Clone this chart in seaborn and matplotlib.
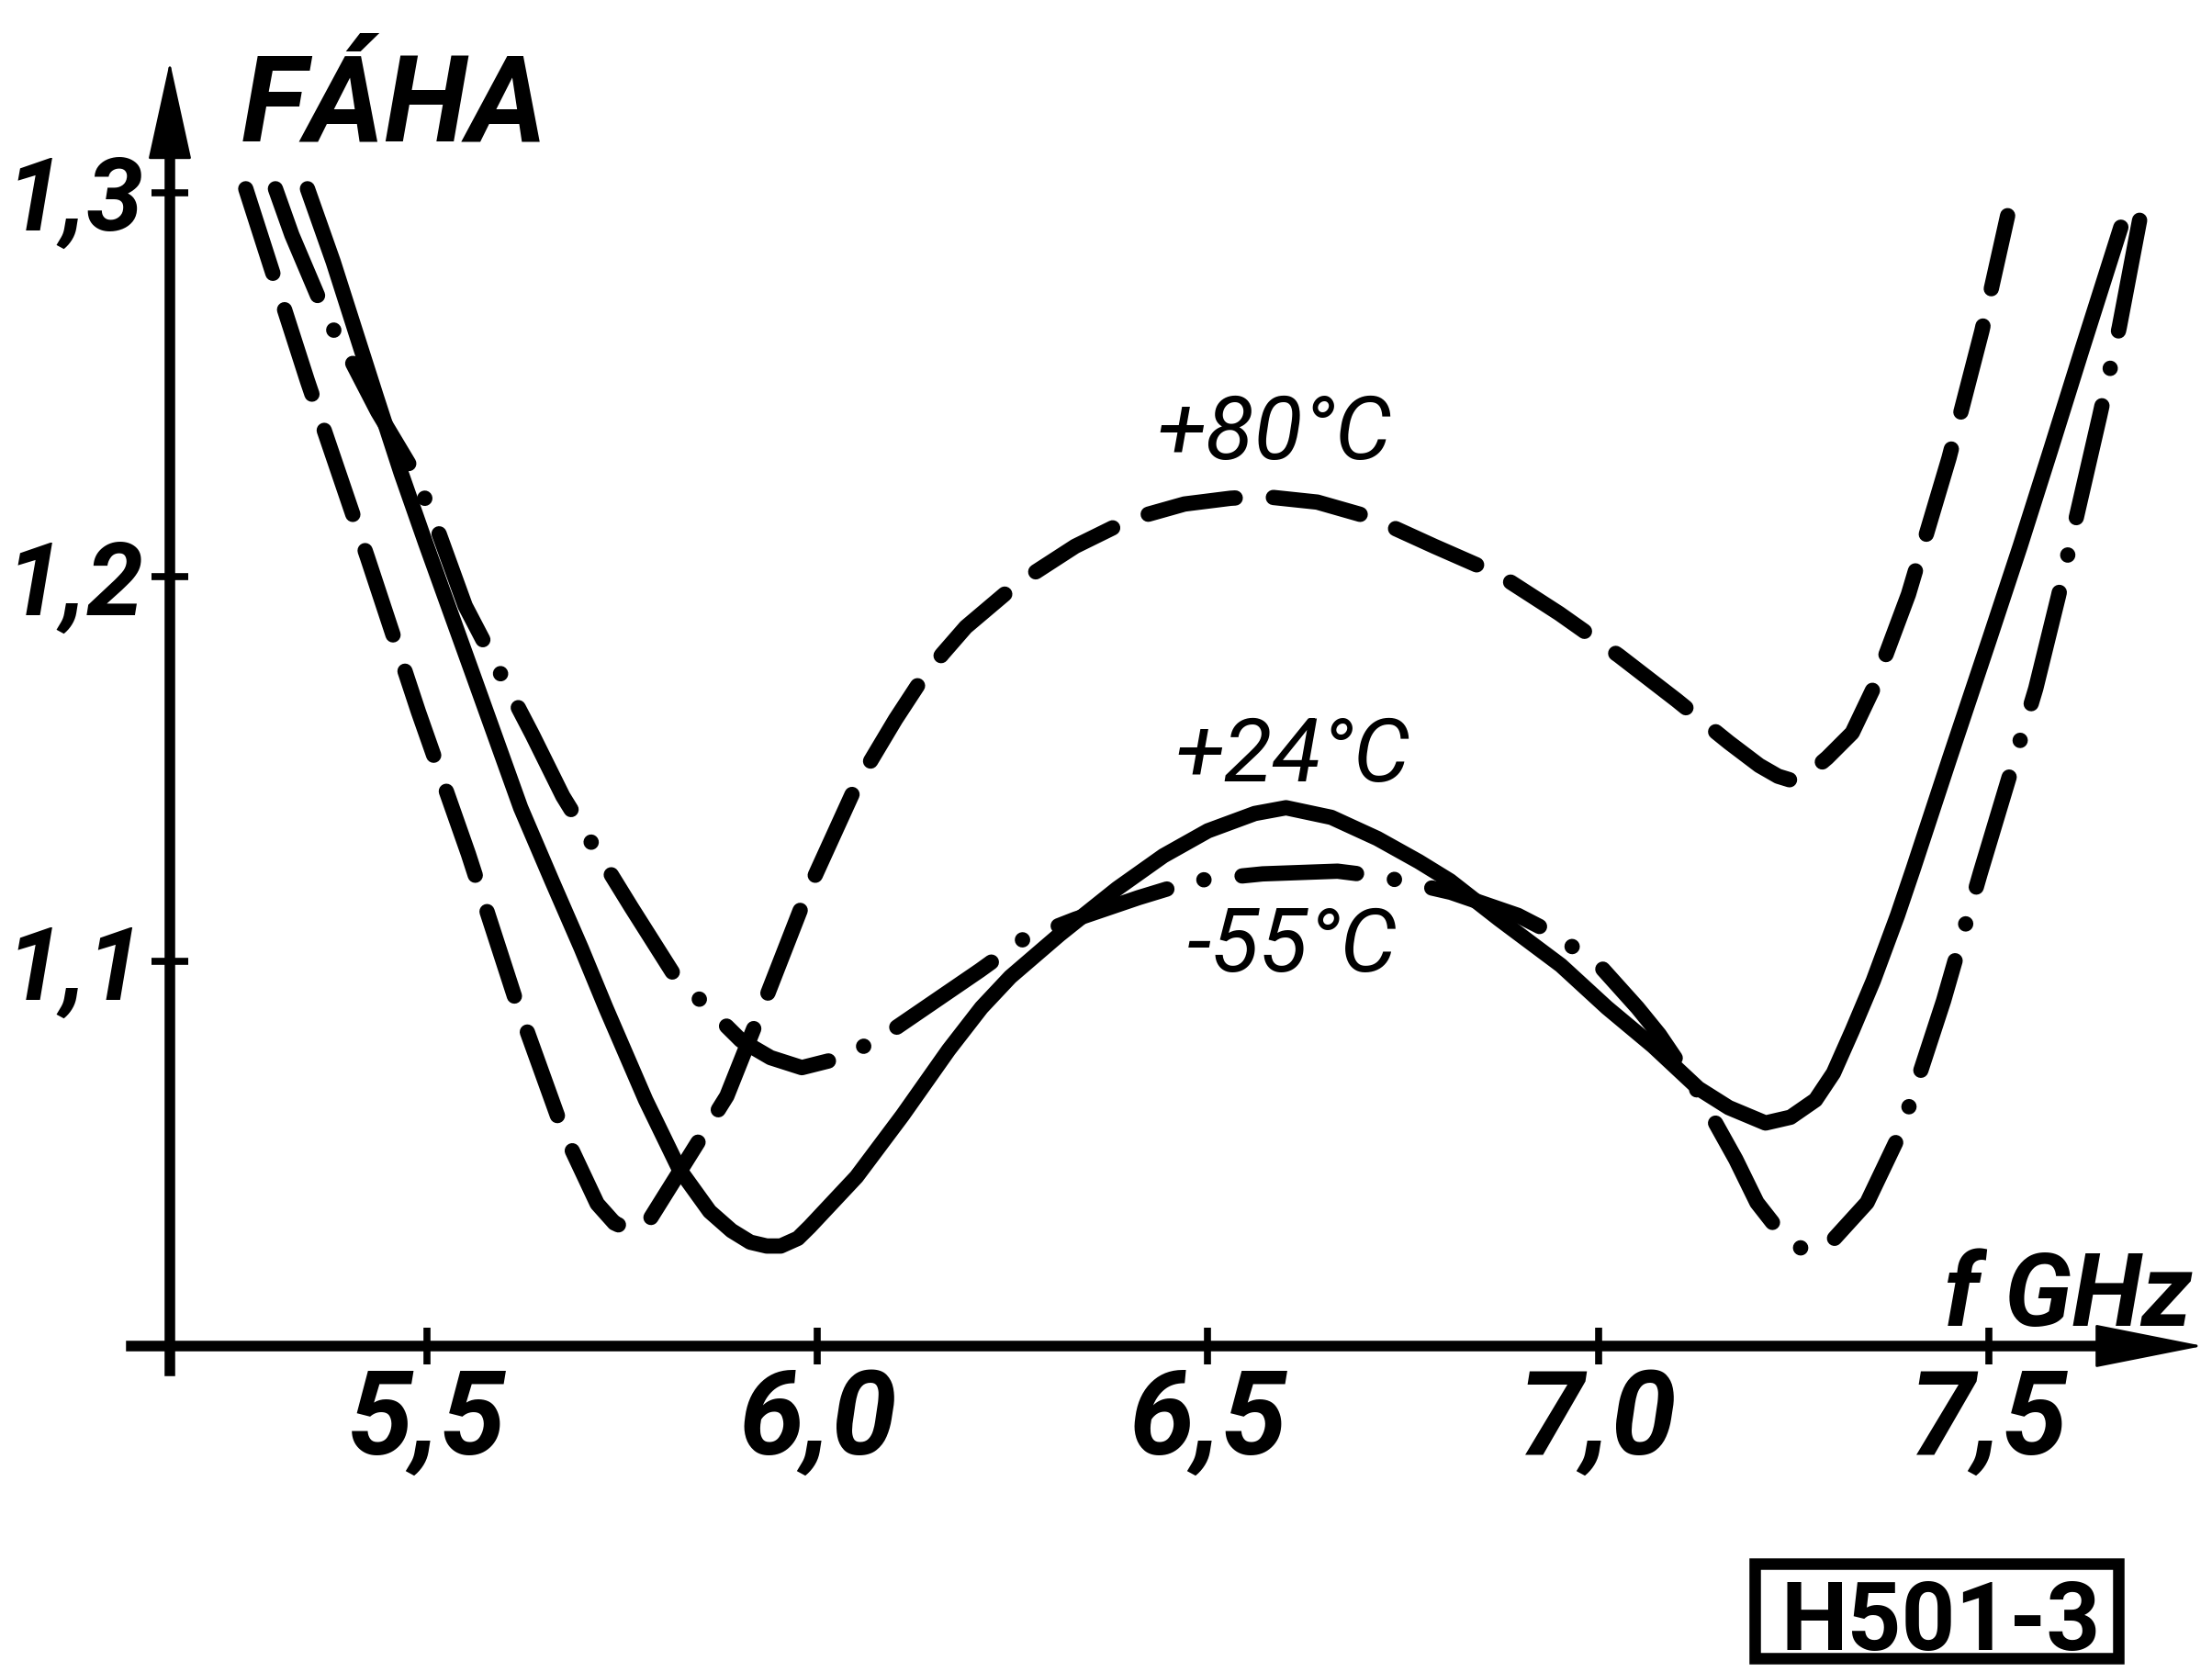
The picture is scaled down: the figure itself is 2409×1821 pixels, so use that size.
import pandas as pd
import seaborn as sns
import matplotlib.pyplot as plt
from matplotlib import font_manager
from matplotlib.patches import Rectangle

# waarden (f in GHz, FAHA zonder eenheid)
f_p24 = [5.347, 5.38, 5.413, 5.435, 5.467, 5.498, 5.521, 5.56, 5.62, 5.66,
         5.6975, 5.729, 5.78, 5.823, 5.862, 5.89, 5.914, 5.935, 5.953, 5.975,
         5.99, 6.05, 6.109, 6.168, 6.21, 6.247, 6.31, 6.384, 6.443, 6.50,
         6.56, 6.60, 6.658, 6.717, 6.77, 6.81, 6.873, 6.952, 7.011, 7.07,
         7.128, 7.167, 7.214, 7.246, 7.278, 7.301, 7.325, 7.352, 7.383, 7.403,
         7.45, 7.501, 7.54, 7.579, 7.619, 7.669]
fha_p24 = [1.301, 1.282, 1.261, 1.247, 1.227, 1.209, 1.196, 1.174, 1.140, 1.121,
           1.1035, 1.088, 1.064, 1.046, 1.035, 1.030, 1.027, 1.026, 1.026, 1.028,
           1.031, 1.044, 1.060, 1.077, 1.088, 1.096, 1.107, 1.119, 1.1275, 1.134,
           1.1385, 1.140, 1.1375, 1.132, 1.126, 1.121, 1.111, 1.099, 1.088, 1.078,
           1.067, 1.062, 1.058, 1.0595, 1.064, 1.071, 1.082, 1.095, 1.112, 1.124,
           1.153, 1.184, 1.208, 1.233, 1.259, 1.291]

f_p80 = [5.268, 5.298, 5.347, 5.424, 5.489, 5.553, 5.612, 5.674, 5.718, 5.74,
         5.761, 5.784, 5.884, 5.937, 5.985, 6.05, 6.10, 6.129, 6.16, 6.19,
         6.254, 6.33, 6.40, 6.47, 6.529, 6.57, 6.64, 6.709, 6.79, 6.873,
         6.95, 7.026, 7.10, 7.167, 7.206, 7.23, 7.246, 7.27, 7.293, 7.325,
         7.352, 7.397, 7.449, 7.491, 7.524]
fha_p80 = [1.301, 1.282, 1.251, 1.205, 1.165, 1.128, 1.091, 1.056, 1.037, 1.032,
           1.030, 1.0325, 1.065, 1.092, 1.117, 1.146, 1.163, 1.172, 1.180, 1.187,
           1.198, 1.208, 1.215, 1.219, 1.2205, 1.221, 1.2195, 1.2155, 1.208, 1.2006,
           1.1905, 1.1796, 1.168, 1.157, 1.151, 1.1482, 1.1472, 1.149, 1.153, 1.1595,
           1.171, 1.1955, 1.231, 1.264, 1.294]

f_m55 = [5.306, 5.327, 5.374, 5.397, 5.437, 5.485, 5.516, 5.549, 5.635, 5.674,
         5.762, 5.815, 5.902, 5.94, 5.98, 6.027, 6.082, 6.208, 6.262, 6.33,
         6.411, 6.482, 6.57, 6.666, 6.725, 6.811, 6.897, 6.94, 7.0, 7.05,
         7.078, 7.128, 7.176, 7.203, 7.235, 7.266, 7.301, 7.344, 7.387, 7.442,
         7.489, 7.56, 7.589, 7.608, 7.642, 7.667, 7.693]
fha_m55 = [1.301, 1.289, 1.2665, 1.2587, 1.243, 1.2267, 1.211, 1.1925, 1.159, 1.143,
           1.114, 1.097, 1.0795, 1.075, 1.0724, 1.0748, 1.0802, 1.0977, 1.1056, 1.111,
           1.1166, 1.121, 1.1228, 1.1235, 1.122, 1.118, 1.112, 1.1075, 1.0993, 1.088,
           1.081, 1.066, 1.0485, 1.0373, 1.029, 1.0245, 1.0277, 1.0373, 1.0556, 1.0898,
           1.123, 1.171, 1.195, 1.212, 1.242, 1.265, 1.2928]

temps = ['+80°C', '+24°C', '-55°C']
x_ticks = [5.5, 6.0, 6.5, 7.0, 7.5]
x_tick_labels = ['5,5', '6,0', '6,5', '7,0', '7,5']
y_ticks = [1.1, 1.2, 1.3]
y_tick_labels = ['1,1', '1,2', '1,3']

df = pd.concat([
    pd.DataFrame({'f': f_p80, 'fha': fha_p80, 'temp': temps[0]}),
    pd.DataFrame({'f': f_p24, 'fha': fha_p24, 'temp': temps[1]}),
    pd.DataFrame({'f': f_m55, 'fha': fha_m55, 'temp': temps[2]}),
], ignore_index=True)

sns.set_style('white')

# smal lettertype kiezen (handschrift is smal)
names = {f.name for f in font_manager.fontManager.ttflist}
fam = [n for n in ['Liberation Sans Narrow', 'Roboto', 'Liberation Sans'] if n in names][:1] + ['DejaVu Sans']
plt.rcParams['font.family'] = fam

fig = plt.figure(figsize=(24.09, 18.21), dpi=100)
ax = fig.add_axes([0, 0, 1, 1])

sns.lineplot(data=df, x='f', y='fha', style='temp', style_order=temps,
             dashes={'+80°C': (5.8, 2.5), '+24°C': '', '-55°C': (7.5, 2.5, 0.01, 2.5)},
             color='black', linewidth=12, sort=False, estimator=None, legend=False,
             ax=ax, dash_capstyle='round', solid_capstyle='round')

ax.set_xlim(4.9533, 7.7857)
ax.set_ylim(0.9152, 1.3501)
ax.set_xlabel('')
ax.set_ylabel('')

# assen als spines door de oorsprong
ax.spines['top'].set_visible(False)
ax.spines['right'].set_visible(False)
ax.spines['left'].set_position(('data', 5.1708))
ax.spines['bottom'].set_position(('data', 1.0))
ax.spines['left'].set_bounds(0.9936, 1.315)
ax.spines['bottom'].set_bounds(5.122, 7.66)
for s in ['left', 'bottom']:
    ax.spines[s].set_linewidth(8.3)
    ax.spines[s].set_color('black')

ax.set_xticks(x_ticks, x_tick_labels)
ax.set_yticks(y_ticks, y_tick_labels)
ax.tick_params(axis='both', bottom=True, left=True, direction='inout',
               length=29, width=5.5, color='black', labelcolor='black')
ax.tick_params(axis='x', pad=1)
ax.tick_params(axis='y', pad=6)
for lbl in ax.get_xticklabels():
    lbl.set_fontsize(92)
for lbl in ax.get_yticklabels():
    lbl.set_fontsize(80)
for lbl in ax.get_xticklabels() + ax.get_yticklabels():
    lbl.set_fontweight('bold')
    lbl.set_fontstyle('italic')

# pijlpunten
arrow = dict(color='black', lw=2, shrinkA=0, shrinkB=0, mutation_scale=10)
ax.annotate('', xy=(5.1708, 1.334), xytext=(5.1708, 1.30),
            arrowprops=dict(arrowstyle='-|>,head_length=7.05,head_width=1.55', **arrow))
ax.annotate('', xy=(7.774, 1.0), xytext=(7.60, 1.0),
            arrowprops=dict(arrowstyle='-|>,head_length=7.8,head_width=1.55', **arrow))

# teksten
ax.text(5.2625, 1.3134, 'FÁHA', fontsize=95, weight='bold', style='italic', color='black')
ax.text(7.4424, 1.0053, 'f GHz', fontsize=80, weight='bold', style='italic', color='black')
for t, (x, y) in zip(temps, [(6.585, 1.2307), (6.608, 1.1469), (6.608, 1.0974)]):
    ax.text(x, y, t, fontsize=70, style='italic', ha='center', color='black')

ax.text(7.4389, 0.92095, 'H501-3', fontsize=74, weight='bold', ha='center', color='black')
ax.add_patch(Rectangle((0.79328, 0.008237), 0.16438, 0.05656, transform=ax.transAxes,
                       fill=False, lw=9, ec='black', clip_on=False))

fig.savefig('out.png', dpi=100)
